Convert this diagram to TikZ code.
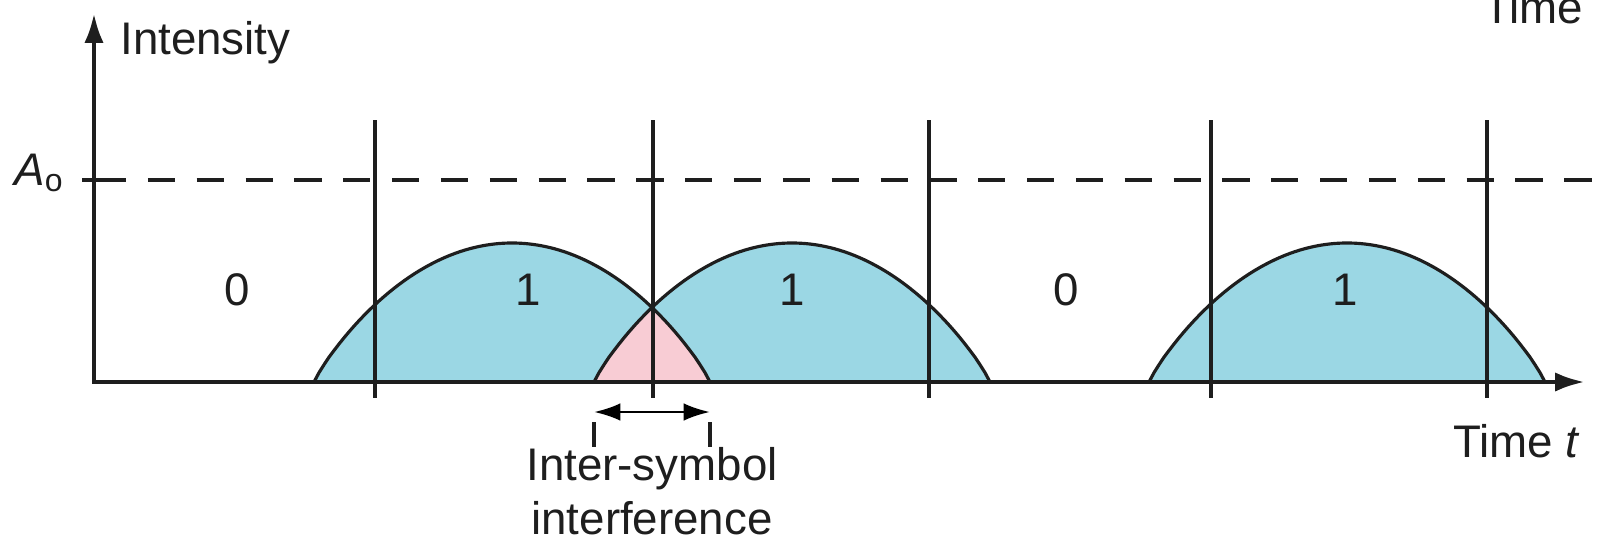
\documentclass[tikz,border=0pt]{standalone}
\usepackage{fontspec}
\setmainfont{Liberation Sans}
\definecolor{PulseCyan}{RGB}{155,215,228}
\definecolor{IsiPink}{RGB}{248,204,212}
\definecolor{InkDark}{RGB}{30,30,30}
\usetikzlibrary{arrows.meta}

\begin{document}
\begin{tikzpicture}[x=0.02cm, y=-0.02cm,
      every node/.style={font=\fontsize{26}{31}\selectfont, text=InkDark, inner sep=0pt},
      axis/.style={draw=InkDark, line width=2.7pt, line join=miter},
      slot/.style={draw=InkDark, line width=1.9pt},
      pulse/.style={draw=InkDark, line width=1.8pt},
      level/.style={draw=InkDark, line width=2pt, dash pattern=on 15.5pt off 12.3pt},
      arr/.style={{Latex[length=15pt,width=10pt]}-{Latex[length=15pt,width=10pt]}, line width=1.5pt}
  ]
    \useasboundingbox (0,0) rectangle (1598,544);
    \clip (0,0) rectangle (1598,544);
    \fill[white] (0,0) rectangle (1598,544);
    \foreach \c in {512,792,1347} {
      \fill[PulseCyan] plot[domain=-198:198, samples=80] ({\c+\x},{382-139*(max(1-(\x/198)*(\x/198),0.00001))^0.9}) -- cycle;
    }
    \fill[IsiPink] plot[domain=594:652, samples=40] (\x,{382-139*(max(1-((\x-792)/198)*((\x-792)/198),0.00001))^0.9})
      -- plot[domain=652:710, samples=40] (\x,{382-139*(max(1-((\x-512)/198)*((\x-512)/198),0.00001))^0.9}) -- cycle;
    \foreach \c in {512,792,1347} {
      \draw[pulse] plot[domain=-198:198, samples=80] ({\c+\x},{382-139*(max(1-(\x/198)*(\x/198),0.00001))^0.9});
    }
    \foreach \p [count=\i] in {375,653,929,1211,1487} {
      \coordinate (top\i) at (\p,120);
      \coordinate (bot\i) at (\p,398);
      \draw[slot] (top\i) -- (bot\i);
    }
    \coordinate (a0) at (82,180);
    \coordinate (a1) at (99,180);
    \coordinate (a2) at (1598,180);
    \draw[slot] (a0) -- (a1);
    \draw[level] (a1) -- (a2);
    \coordinate (orig) at (94,382);
    \coordinate (ytip) at (94,13);
    \coordinate (xtip) at (1585,382);
    \draw[axis, {Latex[length=17pt,width=11pt]}-{Latex[length=17pt,width=11pt]}] (ytip) -- (orig) -- (xtip);
    \foreach \b/\p/\n in {0/237/bit1, 1/528/bit2, 1/792/bit3, 0/1066/bit4, 1/1345/bit5} {
      \node[anchor=base] (\n) at (\p,305) {\b};
    }
    \node[anchor=base west] (ylab) at (120,55) {Intensity};
    \node[anchor=base east] (alab) at (64,185) {\textit{A}\textsubscript{o}};
    \node[anchor=base west] (xlab) at (1453,457) {Time \textit{t}};
    \node[anchor=base west] (xtop) at (1483,24) {Time};
    \coordinate (isiL) at (594,412);
    \coordinate (isiR) at (710,412);
    \draw[arr] (isiL) -- (isiR);
    \draw[slot] (isiL) ++(0,10) -- ++(0,25);
    \draw[slot] (isiR) ++(0,10) -- ++(0,25);
    \node[anchor=north, align=center] (isi) at (652,447) {Inter-symbol\\interference};
  \end{tikzpicture}
\end{document}
